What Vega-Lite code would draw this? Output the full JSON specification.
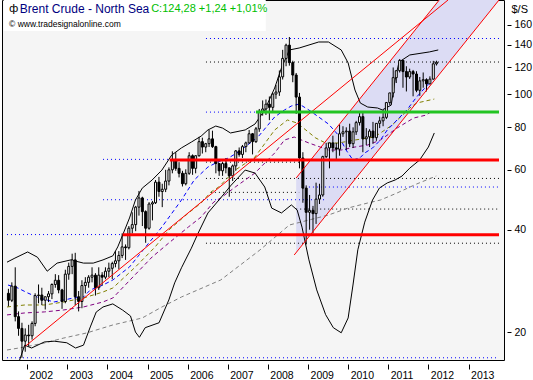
{
"$schema": "https://vega.github.io/schema/vega-lite/v6.json",
"width": 502, "height": 360,
"autosize": {"type": "none"},
"padding": {"left": 2, "top": 0, "right": 29, "bottom": 20},
"background": "white",
"config": {"view": {"stroke": "black", "strokeWidth": 1, "fill": "#f5f5f5"}},
"datasets": {
"candles": [
{"d":"2001-07-15","o":26.0,"h":26.8,"l":23.8,"c":24.8},
{"d":"2001-08-15","o":24.8,"h":28.0,"l":24.5,"c":27.3},
{"d":"2001-09-15","o":27.3,"h":31.0,"l":21.5,"c":22.2},
{"d":"2001-10-15","o":22.2,"h":23.0,"l":19.5,"c":20.5},
{"d":"2001-11-15","o":20.5,"h":21.3,"l":16.8,"c":18.8},
{"d":"2001-12-15","o":18.8,"h":20.5,"l":17.5,"c":19.6},
{"d":"2002-01-15","o":19.6,"h":21.0,"l":18.2,"c":19.5},
{"d":"2002-02-15","o":19.5,"h":21.5,"l":19.0,"c":21.2},
{"d":"2002-03-15","o":21.2,"h":26.0,"l":20.8,"c":25.6},
{"d":"2002-04-15","o":25.6,"h":27.6,"l":24.3,"c":25.7},
{"d":"2002-05-15","o":25.7,"h":27.0,"l":24.0,"c":24.8},
{"d":"2002-06-15","o":24.8,"h":25.4,"l":23.3,"c":25.4},
{"d":"2002-07-15","o":25.4,"h":26.4,"l":24.5,"c":25.9},
{"d":"2002-08-15","o":25.9,"h":27.8,"l":25.0,"c":27.6},
{"d":"2002-09-15","o":27.6,"h":29.6,"l":27.0,"c":28.4},
{"d":"2002-10-15","o":28.4,"h":29.4,"l":26.0,"c":26.6},
{"d":"2002-11-15","o":26.6,"h":26.8,"l":23.4,"c":24.6},
{"d":"2002-12-15","o":24.6,"h":30.5,"l":24.3,"c":29.6},
{"d":"2003-01-15","o":29.6,"h":32.0,"l":28.5,"c":31.2},
{"d":"2003-02-15","o":31.2,"h":34.0,"l":29.6,"c":32.6},
{"d":"2003-03-15","o":32.6,"h":34.2,"l":24.0,"c":25.4},
{"d":"2003-04-15","o":25.4,"h":26.4,"l":23.0,"c":24.6},
{"d":"2003-05-15","o":24.6,"h":28.4,"l":23.5,"c":27.4},
{"d":"2003-06-15","o":27.4,"h":29.0,"l":26.0,"c":28.0},
{"d":"2003-07-15","o":28.0,"h":29.4,"l":27.0,"c":29.0},
{"d":"2003-08-15","o":29.0,"h":31.0,"l":28.0,"c":29.4},
{"d":"2003-09-15","o":29.4,"h":29.8,"l":25.6,"c":27.0},
{"d":"2003-10-15","o":27.0,"h":31.0,"l":26.6,"c":29.4},
{"d":"2003-11-15","o":29.4,"h":30.0,"l":27.4,"c":29.0},
{"d":"2003-12-15","o":29.0,"h":31.0,"l":28.6,"c":30.2},
{"d":"2004-01-15","o":30.2,"h":32.0,"l":29.0,"c":30.8},
{"d":"2004-02-15","o":30.8,"h":32.2,"l":28.6,"c":31.8},
{"d":"2004-03-15","o":31.8,"h":34.6,"l":31.0,"c":32.4},
{"d":"2004-04-15","o":32.4,"h":34.6,"l":30.6,"c":33.6},
{"d":"2004-05-15","o":33.6,"h":39.0,"l":33.0,"c":35.6},
{"d":"2004-06-15","o":35.6,"h":36.2,"l":32.6,"c":35.4},
{"d":"2004-07-15","o":35.4,"h":41.0,"l":35.0,"c":40.4},
{"d":"2004-08-15","o":40.4,"h":45.0,"l":39.0,"c":41.4},
{"d":"2004-09-15","o":41.4,"h":47.0,"l":39.6,"c":46.6},
{"d":"2004-10-15","o":46.6,"h":52.0,"l":44.0,"c":49.6},
{"d":"2004-11-15","o":49.6,"h":50.0,"l":41.0,"c":45.2},
{"d":"2004-12-15","o":45.2,"h":45.6,"l":36.6,"c":40.4},
{"d":"2005-01-15","o":40.4,"h":48.2,"l":40.0,"c":47.6},
{"d":"2005-02-15","o":47.6,"h":48.6,"l":42.6,"c":48.0},
{"d":"2005-03-15","o":48.0,"h":56.0,"l":47.6,"c":55.2},
{"d":"2005-04-15","o":55.2,"h":57.2,"l":50.0,"c":51.8},
{"d":"2005-05-15","o":51.8,"h":54.6,"l":46.6,"c":52.6},
{"d":"2005-06-15","o":52.6,"h":60.0,"l":51.6,"c":55.6},
{"d":"2005-07-15","o":55.6,"h":61.0,"l":54.0,"c":60.0},
{"d":"2005-08-15","o":60.0,"h":68.0,"l":58.6,"c":64.2},
{"d":"2005-09-15","o":64.2,"h":67.6,"l":59.6,"c":60.6},
{"d":"2005-10-15","o":60.6,"h":63.2,"l":57.0,"c":58.6},
{"d":"2005-11-15","o":58.6,"h":59.6,"l":53.6,"c":54.6},
{"d":"2005-12-15","o":54.6,"h":60.2,"l":54.0,"c":58.6},
{"d":"2006-01-15","o":58.6,"h":67.6,"l":58.0,"c":66.0},
{"d":"2006-02-15","o":66.0,"h":66.6,"l":58.0,"c":60.6},
{"d":"2006-03-15","o":60.6,"h":66.2,"l":58.6,"c":66.0},
{"d":"2006-04-15","o":66.0,"h":75.0,"l":65.6,"c":72.6},
{"d":"2006-05-15","o":72.6,"h":74.6,"l":67.0,"c":70.0},
{"d":"2006-06-15","o":70.0,"h":72.0,"l":67.6,"c":71.6},
{"d":"2006-07-15","o":71.6,"h":78.6,"l":70.0,"c":74.0},
{"d":"2006-08-15","o":74.0,"h":78.2,"l":69.6,"c":70.2},
{"d":"2006-09-15","o":70.2,"h":70.6,"l":58.6,"c":62.6},
{"d":"2006-10-15","o":62.6,"h":62.8,"l":57.6,"c":59.6},
{"d":"2006-11-15","o":59.6,"h":63.2,"l":57.6,"c":62.6},
{"d":"2006-12-15","o":62.6,"h":65.0,"l":58.6,"c":60.8},
{"d":"2007-01-15","o":60.8,"h":61.0,"l":50.0,"c":57.6},
{"d":"2007-02-15","o":57.6,"h":62.2,"l":55.6,"c":61.6},
{"d":"2007-03-15","o":61.6,"h":68.6,"l":59.6,"c":68.2},
{"d":"2007-04-15","o":68.2,"h":69.8,"l":65.6,"c":66.6},
{"d":"2007-05-15","o":66.6,"h":71.0,"l":65.0,"c":70.2},
{"d":"2007-06-15","o":70.2,"h":72.6,"l":67.6,"c":72.0},
{"d":"2007-07-15","o":72.0,"h":78.6,"l":71.6,"c":76.6},
{"d":"2007-08-15","o":76.6,"h":77.0,"l":66.6,"c":72.6},
{"d":"2007-09-15","o":72.6,"h":80.2,"l":72.0,"c":79.2},
{"d":"2007-10-15","o":79.2,"h":90.6,"l":77.6,"c":89.2},
{"d":"2007-11-15","o":89.2,"h":96.0,"l":86.6,"c":90.6},
{"d":"2007-12-15","o":90.6,"h":96.6,"l":87.0,"c":93.6},
{"d":"2008-01-15","o":93.6,"h":98.6,"l":84.0,"c":91.6},
{"d":"2008-02-15","o":91.6,"h":101.0,"l":88.6,"c":100.2},
{"d":"2008-03-15","o":100.2,"h":106.6,"l":97.0,"c":101.6},
{"d":"2008-04-15","o":101.6,"h":117.6,"l":99.0,"c":112.6},
{"d":"2008-05-15","o":112.6,"h":135.2,"l":110.6,"c":127.6},
{"d":"2008-06-15","o":127.6,"h":141.0,"l":121.0,"c":139.6},
{"d":"2008-07-15","o":139.6,"h":147.5,"l":121.5,"c":124.0},
{"d":"2008-08-15","o":124.0,"h":125.6,"l":108.6,"c":114.0},
{"d":"2008-09-15","o":114.0,"h":115.6,"l":87.6,"c":98.2},
{"d":"2008-10-15","o":98.2,"h":101.0,"l":60.6,"c":65.0},
{"d":"2008-11-15","o":65.0,"h":67.6,"l":48.0,"c":53.0},
{"d":"2008-12-15","o":53.0,"h":54.0,"l":36.2,"c":45.0},
{"d":"2009-01-15","o":45.0,"h":50.6,"l":40.0,"c":45.6},
{"d":"2009-02-15","o":45.6,"h":47.0,"l":39.0,"c":44.6},
{"d":"2009-03-15","o":44.6,"h":55.0,"l":41.6,"c":49.2},
{"d":"2009-04-15","o":49.2,"h":54.6,"l":47.6,"c":50.6},
{"d":"2009-05-15","o":50.6,"h":66.0,"l":50.0,"c":65.6},
{"d":"2009-06-15","o":65.6,"h":72.0,"l":65.0,"c":69.6},
{"d":"2009-07-15","o":69.6,"h":72.0,"l":60.6,"c":72.0},
{"d":"2009-08-15","o":72.0,"h":75.6,"l":67.6,"c":69.6},
{"d":"2009-09-15","o":69.6,"h":72.0,"l":64.6,"c":69.0},
{"d":"2009-10-15","o":69.0,"h":81.6,"l":66.0,"c":76.6},
{"d":"2009-11-15","o":76.6,"h":80.6,"l":75.0,"c":77.6},
{"d":"2009-12-15","o":77.6,"h":80.0,"l":68.6,"c":78.0},
{"d":"2010-01-15","o":78.0,"h":82.0,"l":70.0,"c":71.6},
{"d":"2010-02-15","o":71.6,"h":80.0,"l":69.6,"c":77.6},
{"d":"2010-03-15","o":77.6,"h":83.6,"l":76.0,"c":82.6},
{"d":"2010-04-15","o":82.6,"h":89.0,"l":81.0,"c":86.0},
{"d":"2010-05-15","o":86.0,"h":88.6,"l":67.6,"c":74.0},
{"d":"2010-06-15","o":74.0,"h":79.6,"l":71.0,"c":75.0},
{"d":"2010-07-15","o":75.0,"h":79.0,"l":70.0,"c":78.0},
{"d":"2010-08-15","o":78.0,"h":83.0,"l":71.6,"c":74.6},
{"d":"2010-09-15","o":74.6,"h":82.0,"l":73.0,"c":82.2},
{"d":"2010-10-15","o":82.2,"h":86.0,"l":79.6,"c":83.6},
{"d":"2010-11-15","o":83.6,"h":90.0,"l":80.6,"c":85.6},
{"d":"2010-12-15","o":85.6,"h":95.0,"l":84.6,"c":94.6},
{"d":"2011-01-15","o":94.6,"h":101.0,"l":93.0,"c":101.0},
{"d":"2011-02-15","o":101.0,"h":120.0,"l":98.0,"c":112.0},
{"d":"2011-03-15","o":112.0,"h":117.6,"l":108.0,"c":117.4},
{"d":"2011-04-15","o":117.4,"h":127.0,"l":116.0,"c":125.9},
{"d":"2011-05-15","o":125.9,"h":126.2,"l":104.6,"c":116.7},
{"d":"2011-06-15","o":116.7,"h":121.0,"l":102.0,"c":112.5},
{"d":"2011-07-15","o":112.5,"h":119.0,"l":111.0,"c":116.7},
{"d":"2011-08-15","o":116.7,"h":118.0,"l":98.7,"c":114.8},
{"d":"2011-09-15","o":114.8,"h":117.0,"l":101.5,"c":102.8},
{"d":"2011-10-15","o":102.8,"h":112.5,"l":99.0,"c":109.6},
{"d":"2011-11-15","o":109.6,"h":116.0,"l":104.6,"c":110.5},
{"d":"2011-12-15","o":110.5,"h":111.5,"l":102.0,"c":107.4},
{"d":"2012-01-15","o":107.4,"h":113.0,"l":107.0,"c":110.9},
{"d":"2012-02-15","o":110.9,"h":125.5,"l":110.5,"c":123.0},
{"d":"2012-03-15","o":123.0,"h":125.6,"l":121.6,"c":124.28}
],
"ub": [
{"d":"2001-07-02","p":32.1},{"d":"2001-09-12","p":33.0},{"d":"2002-01-06","p":34.4},{"d":"2002-04-05","p":33.2},{"d":"2002-07-03","p":30.2},{"d":"2002-10-01","p":31.9},{"d":"2003-02-02","p":32.6},{"d":"2003-05-29","p":31.9},{"d":"2003-08-26","p":31.9},{"d":"2003-11-23","p":32.6},{"d":"2004-02-20","p":33.5},{"d":"2004-04-05","p":35.6},{"d":"2004-05-20","p":38.6},{"d":"2004-07-21","p":43.3},{"d":"2004-09-13","p":48.9},{"d":"2004-11-14","p":53.0},{"d":"2005-02-12","p":56.0},{"d":"2005-05-12","p":59.9},{"d":"2005-08-09","p":66.3},{"d":"2005-11-06","p":69.6},{"d":"2006-02-04","p":72.4},{"d":"2006-05-04","p":75.4},{"d":"2006-07-05","p":78.6},{"d":"2006-09-14","p":80.7},{"d":"2006-11-15","p":79.6},{"d":"2007-01-26","p":77.0},{"d":"2007-06-09","p":78.6},{"d":"2007-09-06","p":81.8},{"d":"2007-12-04","p":90.0},{"d":"2008-03-03","p":104.4},{"d":"2008-05-04","p":119.6},{"d":"2008-07-15","p":135.1},{"d":"2008-10-12","p":136.9},{"d":"2009-04-08","p":142.6},{"d":"2009-07-06","p":142.6},{"d":"2009-10-30","p":135.1},{"d":"2010-01-01","p":123.7},{"d":"2010-03-04","p":103.0},{"d":"2010-04-22","p":94.3},{"d":"2010-06-28","p":91.8},{"d":"2010-09-25","p":91.2},{"d":"2010-11-08","p":90.0},{"d":"2011-01-28","p":93.0},{"d":"2011-03-04","p":110.2},{"d":"2011-04-09","p":124.5},{"d":"2011-07-16","p":130.6},{"d":"2012-01-10","p":133.3},{"d":"2012-03-31","p":135.1}
],
"lb": [
{"d":"2001-10-18","p":16.3},{"d":"2001-12-10","p":18.3},{"d":"2002-02-11","p":17.95},{"d":"2002-06-07","p":18.7},{"d":"2002-09-04","p":18.8},{"d":"2002-12-28","p":18.6},{"d":"2003-03-18","p":17.95},{"d":"2003-05-29","p":18.3},{"d":"2003-07-30","p":20.7},{"d":"2003-09-22","p":22.9},{"d":"2003-11-23","p":23.7},{"d":"2004-02-20","p":24.2},{"d":"2004-05-20","p":23.2},{"d":"2004-07-30","p":22.3},{"d":"2004-09-13","p":20.0},{"d":"2004-10-19","p":19.3},{"d":"2004-12-11","p":20.6},{"d":"2005-04-16","p":21.3},{"d":"2005-07-14","p":24.85},{"d":"2005-09-05","p":27.9},{"d":"2005-11-06","p":30.9},{"d":"2006-02-04","p":35.3},{"d":"2006-04-07","p":39.1},{"d":"2006-07-05","p":44.8},{"d":"2006-10-29","p":49.6},{"d":"2007-01-26","p":53.8},{"d":"2007-06-09","p":59.9},{"d":"2007-09-06","p":58.7},{"d":"2007-12-04","p":53.4},{"d":"2008-02-05","p":46.3},{"d":"2008-05-04","p":44.8},{"d":"2008-08-02","p":47.3},{"d":"2008-09-24","p":45.7},{"d":"2008-11-07","p":40.7},{"d":"2009-01-09","p":32.6},{"d":"2009-03-21","p":26.6},{"d":"2009-06-10","p":22.5},{"d":"2009-08-19","p":20.6},{"d":"2009-10-30","p":19.9},{"d":"2010-01-01","p":22.0},{"d":"2010-02-14","p":27.5},{"d":"2010-03-30","p":34.9},{"d":"2010-06-01","p":42.1},{"d":"2010-08-11","p":48.9},{"d":"2010-10-13","p":53.05},{"d":"2010-12-23","p":54.9},{"d":"2011-03-04","p":56.0},{"d":"2011-05-06","p":57.5},{"d":"2011-07-16","p":60.7},{"d":"2011-10-13","p":64.1},{"d":"2012-01-01","p":70.0},{"d":"2012-02-24","p":77.0}
],
"bma": [
{"d":"2001-07-11","p":27.5},{"d":"2001-10-09","p":26.95},{"d":"2002-01-06","p":26.06},{"d":"2002-04-22","p":25.19},{"d":"2002-09-04","p":24.52},{"d":"2002-12-02","p":24.85},{"d":"2003-03-01","p":25.19},{"d":"2003-05-29","p":25.36},{"d":"2003-07-30","p":26.59},{"d":"2003-11-23","p":27.5},{"d":"2004-02-20","p":28.45},{"d":"2004-07-21","p":31.08},{"d":"2004-12-29","p":36.07},{"d":"2005-05-12","p":40.74},{"d":"2005-11-06","p":48.9},{"d":"2006-03-02","p":56.0},{"d":"2006-07-05","p":61.15},{"d":"2006-10-02","p":63.26},{"d":"2007-01-08","p":65.0},{"d":"2007-04-08","p":67.69},{"d":"2007-10-03","p":74.92},{"d":"2008-03-03","p":85.8},{"d":"2008-05-31","p":89.95},{"d":"2008-08-02","p":92.43},{"d":"2008-10-12","p":93.69},{"d":"2009-01-09","p":89.95},{"d":"2009-04-08","p":85.8},{"d":"2009-07-06","p":81.8},{"d":"2009-10-03","p":75.94},{"d":"2009-12-13","p":68.61},{"d":"2010-02-14","p":64.12},{"d":"2010-04-17","p":65.0},{"d":"2010-06-01","p":67.23},{"d":"2010-08-11","p":69.55},{"d":"2010-10-22","p":73.42},{"d":"2010-12-23","p":78.56},{"d":"2011-03-22","p":84.07},{"d":"2011-06-19","p":89.95},{"d":"2011-09-16","p":98.24},{"d":"2012-01-10","p":107.98}
],
"oma": [
{"d":"2001-07-02","p":23.7},{"d":"2001-12-10","p":24.02},{"d":"2002-06-07","p":24.02},{"d":"2002-12-02","p":24.52},{"d":"2003-05-29","p":25.19},{"d":"2003-11-23","p":26.23},{"d":"2004-02-20","p":26.95},{"d":"2004-09-13","p":31.08},{"d":"2005-03-11","p":35.58},{"d":"2005-07-14","p":39.92},{"d":"2006-01-08","p":44.78},{"d":"2006-05-04","p":47.92},{"d":"2006-08-01","p":51.63},{"d":"2006-10-11","p":53.41},{"d":"2007-03-11","p":59.92},{"d":"2007-09-06","p":65.44},{"d":"2008-03-03","p":78.56},{"d":"2008-06-27","p":84.07},{"d":"2008-09-24","p":82.38},{"d":"2009-03-12","p":74.42},{"d":"2009-06-10","p":71.94},{"d":"2009-10-03","p":71.94},{"d":"2010-03-04","p":73.42},{"d":"2010-08-29","p":74.92},{"d":"2011-02-06","p":81.27},{"d":"2011-07-16","p":91.18},{"d":"2011-09-16","p":94.3},{"d":"2012-02-24","p":96.9}
],
"pma": [
{"d":"2001-07-02","p":22.46},{"d":"2001-12-10","p":22.76},{"d":"2002-06-07","p":22.92},{"d":"2002-12-02","p":23.23},{"d":"2003-05-29","p":23.7},{"d":"2003-11-23","p":24.52},{"d":"2004-02-20","p":25.19},{"d":"2005-02-12","p":33.25},{"d":"2005-07-14","p":36.56},{"d":"2006-01-08","p":40.74},{"d":"2006-05-04","p":43.59},{"d":"2006-08-27","p":48.24},{"d":"2006-10-29","p":49.57},{"d":"2007-03-11","p":53.41},{"d":"2007-09-06","p":58.72},{"d":"2008-03-03","p":67.23},{"d":"2008-05-31","p":73.42},{"d":"2008-08-28","p":74.92},{"d":"2009-01-09","p":71.94},{"d":"2009-07-06","p":68.61},{"d":"2009-10-30","p":68.61},{"d":"2010-03-04","p":70.02},{"d":"2010-06-28","p":70.97},{"d":"2010-10-22","p":73.42},{"d":"2011-03-22","p":79.6},{"d":"2011-08-20","p":85.2},{"d":"2011-12-14","p":86.95},{"d":"2012-02-15","p":89.95}
],
"gma": [
{"d":"2001-07-02","p":17.71},{"d":"2001-12-10","p":18.07},{"d":"2002-06-07","p":18.57},{"d":"2002-12-02","p":19.21},{"d":"2003-06-25","p":19.87},{"d":"2004-02-20","p":20.98},{"d":"2004-11-14","p":22.0},{"d":"2005-05-12","p":23.7},{"d":"2005-11-06","p":25.36},{"d":"2006-10-29","p":28.45},{"d":"2007-10-21","p":34.86},{"d":"2008-07-15","p":41.29},{"d":"2009-01-09","p":42.71},{"d":"2009-07-06","p":44.18},{"d":"2010-01-01","p":46.33},{"d":"2010-06-28","p":47.92},{"d":"2010-10-22","p":48.9},{"d":"2011-03-22","p":51.28},{"d":"2011-09-16","p":54.5},{"d":"2012-03-13","p":57.54}
],
"trend": [
{"id":"A","d":"2001-12-19","p":18.2},{"id":"A","d":"2012-06-28","p":189.5},
{"id":"U","d":"2008-09-15","p":56.77},{"id":"U","d":"2012-04-09","p":189.5},
{"id":"L","d":"2008-08-28","p":33.7},{"id":"L","d":"2013-10-05","p":189.5}
],
"shade": [
{"d":"2008-09-15","p":34.26,"p2":56.77},{"d":"2012-04-09","p":114.46,"p2":189.5},{"d":"2013-10-05","p":189.5,"p2":189.5}
],
"hb": [
{"d":"2006-06-17","d2":"2013-10-05","p":146},{"d":"2006-06-17","d2":"2007-09-15","p":88.7},{"d":"2003-11-23","d2":"2005-07-23","p":64.4},{"d":"2003-11-23","d2":"2009-06-10","p":49.0},{"d":"2001-07-02","d2":"2004-05-20","p":38.7},{"d":"2001-07-02","d2":"2013-10-05","p":16.8},{"d":"2009-01-09","d2":"2013-10-05","p":53.4}
],
"hk": [
{"d":"2006-06-17","d2":"2013-10-05","p":124.5},{"d":"2006-06-17","d2":"2008-10-12","p":63.2},{"d":"2006-06-17","d2":"2013-10-05","p":56.6},{"d":"2006-08-01","d2":"2008-10-12","p":51.5},{"d":"2008-09-15","d2":"2013-10-05","p":46.0},{"d":"2006-06-17","d2":"2013-10-05","p":36.5}
],
"hr": [
{"d":"2005-07-23","d2":"2013-10-05","p":64.1},{"d":"2004-05-20","d2":"2013-10-05","p":38.65}
],
"hg": [
{"d":"2007-09-15","d2":"2013-10-05","p":88.7}
]
},
"encoding": {
  "x":{"field":"d","type":"temporal","scale":{"domain":[{"year":2001,"month":7,"date":2},{"year":2013,"month":10,"date":5}]},
       "axis":{"values":[{"year":2002,"month":1,"date":1},{"year":2003,"month":1,"date":1},{"year":2004,"month":1,"date":1},{"year":2005,"month":1,"date":1},{"year":2006,"month":1,"date":1},{"year":2007,"month":1,"date":1},{"year":2008,"month":1,"date":1},{"year":2009,"month":1,"date":1},{"year":2010,"month":1,"date":1},{"year":2011,"month":1,"date":1},{"year":2012,"month":1,"date":1},{"year":2013,"month":1,"date":1}],
       "format":"%Y","orient":"bottom","offset":4,"tickSize":5,"tickColor":"black","domain":false,"grid":false,"labelAlign":"left","labelBaseline":"top","labelPadding":1,"labelOffset":2,"labelColor":"black","labelFont":"Liberation Sans","labelFontSize":10.5,"title":null,"labelOverlap":false,"labelFlush":false}},
  "y":{"field":"p","type":"quantitative","scale":{"type":"log","domain":[16.55,189.5]},
       "axis":{"orient":"right","values":[20,40,60,80,100,120,140,160],"format":"d","offset":3,"tickSize":4,"tickColor":"black","domain":false,"grid":false,"labelAlign":"left","labelBaseline":"middle","labelPadding":3,"labelColor":"black","labelFont":"Liberation Sans","labelFontSize":10.5,"title":"$/S","titleAngle":0,"titleAlign":"left","titleBaseline":"top","titleX":4,"titleY":3,"titleFontWeight":"normal","titleFont":"Liberation Sans","titleFontSize":11,"titleColor":"black","labelOverlap":false,"labelFlush":false}}
},
"layer": [
{"data":{"name":"shade"},"mark":{"type":"area","color":"#dcdcf4","clip":true},
 "encoding":{"y2":{"field":"p2"}}},
{"data":{"name":"hb"},"mark":{"type":"rule","color":"#0000ff","strokeWidth":1,"strokeDash":[1,3],"clip":true},
 "encoding":{"x2":{"field":"d2"}}},
{"data":{"name":"hk"},"mark":{"type":"rule","color":"#000000","strokeWidth":1,"strokeDash":[1,3],"clip":true},
 "encoding":{"x2":{"field":"d2"}}},
{"data":{"name":"gma"},"mark":{"type":"line","color":"#808080","strokeWidth":1,"strokeDash":[4,3],"clip":true}},
{"data":{"name":"pma"},"mark":{"type":"line","color":"#800080","strokeWidth":1,"strokeDash":[4,3],"clip":true}},
{"data":{"name":"oma"},"mark":{"type":"line","color":"#808000","strokeWidth":1,"strokeDash":[4,3],"clip":true}},
{"data":{"name":"bma"},"mark":{"type":"line","color":"#0000ff","strokeWidth":1,"strokeDash":[4,3],"clip":true}},
{"data":{"name":"ub"},"mark":{"type":"line","color":"#000000","strokeWidth":1,"clip":true}},
{"data":{"name":"lb"},"mark":{"type":"line","color":"#000000","strokeWidth":1,"clip":true}},
{"data":{"name":"candles"},"mark":{"type":"rule","color":"#000000","strokeWidth":1,"clip":true},
 "encoding":{
  "y":{"field":"l","type":"quantitative","scale":{"type":"log","domain":[16.55,189.5]},
       "axis":{"orient":"right","values":[20,40,60,80,100,120,140,160],"format":"d","offset":3,"tickSize":4,"tickColor":"black","domain":false,"grid":false,"labelAlign":"left","labelBaseline":"middle","labelPadding":3,"labelColor":"black","labelFont":"Liberation Sans","labelFontSize":10.5,"title":"$/S","titleAngle":0,"titleAlign":"left","titleBaseline":"top","titleX":4,"titleY":3,"titleFontWeight":"normal","titleFont":"Liberation Sans","titleFontSize":11,"titleColor":"black","labelOverlap":false,"labelFlush":false}},
  "y2":{"field":"h"}}},
{"data":{"name":"candles"},"mark":{"type":"bar","width":2,"stroke":"#000000","strokeWidth":1,"clip":true},
 "encoding":{
  "y":{"field":"o","type":"quantitative","scale":{"type":"log","domain":[16.55,189.5]},
       "axis":{"orient":"right","values":[20,40,60,80,100,120,140,160],"format":"d","offset":3,"tickSize":4,"tickColor":"black","domain":false,"grid":false,"labelAlign":"left","labelBaseline":"middle","labelPadding":3,"labelColor":"black","labelFont":"Liberation Sans","labelFontSize":10.5,"title":"$/S","titleAngle":0,"titleAlign":"left","titleBaseline":"top","titleX":4,"titleY":3,"titleFontWeight":"normal","titleFont":"Liberation Sans","titleFontSize":11,"titleColor":"black","labelOverlap":false,"labelFlush":false}},
  "y2":{"field":"c"},
  "fill":{"condition":{"test":"datum.c >= datum.o","value":"#ffffff"},"value":"#000000"}}},
{"data":{"name":"trend"},"mark":{"type":"line","color":"#ff0000","strokeWidth":1,"clip":true},
 "encoding":{"detail":{"field":"id"}}},
{"data":{"name":"hr"},"mark":{"type":"rule","color":"#ff0000","strokeWidth":3,"clip":true},
 "encoding":{"x2":{"field":"d2"}}},
{"data":{"name":"hg"},"mark":{"type":"rule","color":"#22c422","strokeWidth":3,"clip":true},
 "encoding":{"x2":{"field":"d2"}}},
{"data":{"values":[{"d":"2001-06-01","d2":"2007-12-13","p":153.7,"p2":250}]},"mark":{"type":"rect","color":"#ffffff","clip":true},
 "encoding":{"x2":{"field":"d2"},"y2":{"field":"p2"}}},
{"data":{"values":[{"t":"ф","d":"2001-07-21","p":178.3}]},"mark":{"type":"text","align":"left","baseline":"middle","font":"DejaVu Sans","fontSize":11,"color":"#000000"},
 "encoding":{"text":{"field":"t"}}},
{"data":{"values":[{"t":"Brent Crude - North Sea","d":"2001-10-27","p":178.3}]},"mark":{"type":"text","align":"left","baseline":"middle","font":"Liberation Sans","fontSize":12,"color":"#000080"},
 "encoding":{"text":{"field":"t"}}},
{"data":{"values":[{"t":"C:124,28 +1,24 +1,01%","d":"2005-02-03","p":178.3}]},"mark":{"type":"text","align":"left","baseline":"middle","font":"Liberation Sans","fontSize":11,"color":"#00c000"},
 "encoding":{"text":{"field":"t"}}},
{"data":{"values":[{"t":"© www.tradesignalonline.com","d":"2001-07-21","p":161.1}]},"mark":{"type":"text","align":"left","baseline":"middle","font":"Liberation Sans","fontSize":8.5,"color":"#000000"},
 "encoding":{"text":{"field":"t"}}}
]
}
